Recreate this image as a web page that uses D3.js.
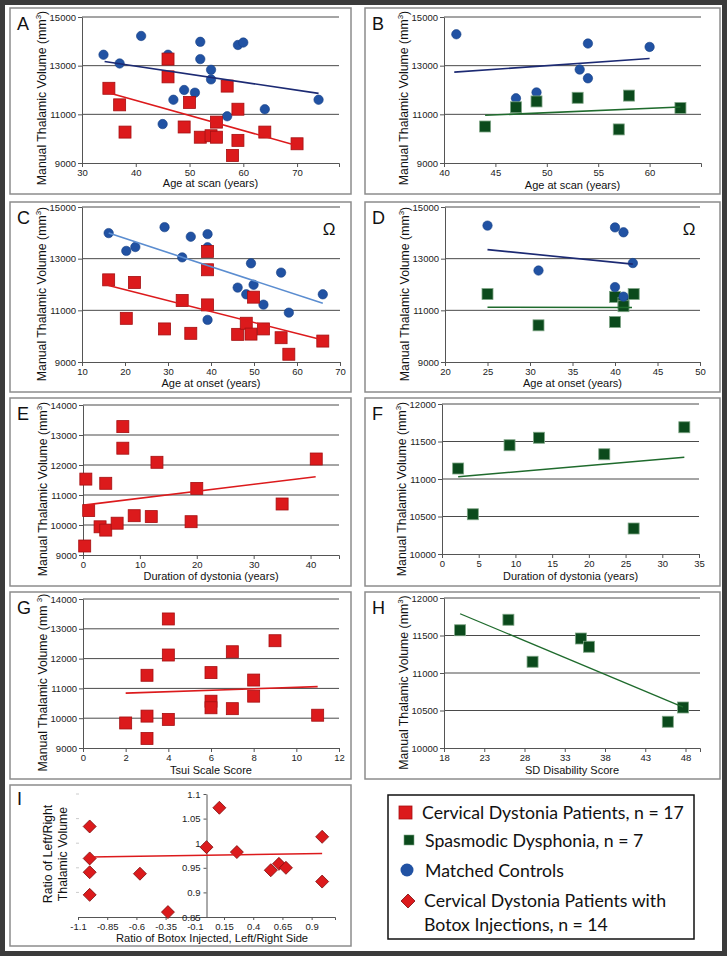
<!DOCTYPE html>
<html><head><meta charset="utf-8">
<script src="https://cdn.jsdelivr.net/npm/d3@7"></script>
<style>body{margin:0;background:#3b3b3b;} svg{display:block}</style>
</head><body>
<svg id="c" width="727" height="956"></svg>
<script>
// ---------- DATA ----------
// A: age at scan
const aCtrlAge = [34,37,41,46,45,47,49,51,52,52,54,54,57,59,60,64,74];
const aCtrlVol = [13450,13090,14220,13450,10600,11600,12000,11890,13980,13270,12830,12435,10920,13850,13950,11210,11600];
const aCdAge = [35,37,38,46,46,49,50,52,54,55,55,57,58,59,59,64,70];
const aCdVol = [12070,11390,10270,13270,12540,10480,11490,10060,10120,10060,10680,12160,9310,11210,9930,10270,9790];
const aCtrlFit = [[34.2,13170],[74,11860]];
const aCdFit = [[35.1,11880],[69.9,9720]];
// B: age at scan (SD)
const bCtrlAge = [41.2,47,49,53.2,54,54,60];
const bCtrlVol = [14290,11660,11900,12840,12480,13910,13770];
const bSdAge = [44,47,49,53,57,58,63];
const bSdVol = [10500,11290,11530,11680,10380,11770,11260];
const bCtrlFit = [[41,12735],[60,13295]];
const bSdFit = [[44,10960],[63,11300]];
// C: age at onset (CD)
const cCtrlOnset = [16.2,20.3,22.4,29.2,33.3,35.3,39.2,39.2,39.2,46.2,48.2,49.3,49.9,52.2,56.3,58.1,66];
const cCtrlVol = [13990,13300,13450,14220,13050,13850,13950,13440,10630,11880,11620,12820,11990,11220,12460,10910,11620];
const cCdOnset = [16.2,20.3,22.2,29.2,33.3,35.3,39.2,39.2,39.2,46.2,48.2,49.3,49.9,52.2,56.3,58.1,66];
const cCdVol = [12180,10690,12080,10280,11380,10110,13280,12570,11210,10070,10500,10080,11510,10280,9940,9300,9810];
const cCtrlFit = [[16.2,13990],[66,11270]];
const cCdFit = [[16.2,11960],[66,9850]];
// D: age at onset (SD)
const dCtrlOnset = [25,31,40,41,42.1,40,41];
const dCtrlVol = [14280,12540,14210,14020,12830,11900,11530];
const dSdOnset = [25,31,40,40,41,41,42.2];
const dSdVol = [11630,10420,11520,10550,11290,11160,11630];
const dCtrlFit = [[25,13350],[42.1,12790]];
const dSdFit = [[25,11120],[42,11110]];
// E: duration of dystonia (CD)
const eDur = [0.5,1,3,4,4,0.3,6,7,7,9,12,13,19,20,35,41];
const eVol = [11530,10480,9940,9830,11390,9300,10060,13280,12560,10310,10280,12090,10110,11220,10700,12200];
const eFit = [[0.5,10670],[40.9,11610]];
// F: duration of dystonia (SD)
const fDur = [2.2,4.2,9.2,13.2,22.1,26.1,33];
const fVol = [11140,10530,11450,11550,11330,10340,11690];
const fFit = [[2.2,11030],[33,11290]];
// G: Tsui scale
const gTsui = [2,3,3,3,4,4,4,6,6,6,7,7,8,8,9,11];
const gVol = [9840,11440,10070,9320,13330,12120,9960,11530,10570,10350,12230,10320,11280,10740,12600,10100];
const gFit = [[2,10840],[11,11060]];
// H: SD disability
const hSdd = [20,26,29,35,36,45.8,47.7];
const hVol = [11570,11710,11150,11460,11350,10350,10540];
const hFit = [[20,11790],[47.7,10545]];
// I: botox ratio
const iBotox = [-1,-1,-1,-1,-0.57,-0.33,0,0.11,0.26,0.55,0.62,0.68,0.99,0.99];
const iRatio = [1.034,0.969,0.941,0.895,0.938,0.860,0.992,1.072,0.982,0.945,0.958,0.950,1.013,0.922];
const iFit = [[-1,0.972],[0.99,0.979]];
// ticks
const ticksAgeA = [30,40,50,60,70];
const ticksAgeB = [40,45,50,55,60];
const ticksOnsetC = [10,20,30,40,50,60,70];
const ticksOnsetD = [20,25,30,35,40,45,50];
const ticksDurE = [0,10,20,30,40];
const ticksDurF = [0,5,10,15,20,25,30,35];
const ticksTsui = [0,2,4,6,8,10,12];
const ticksSdd = [18,23,28,33,38,43,48];
const ticksBotox = [-1.1,-0.85,-0.6,-0.35,-0.1,0.15,0.4,0.65,0.9];
const ticksVol = [9000,11000,13000,15000];
const ticksVolE = [9000,10000,11000,12000,13000,14000];
const ticksVolF = [10000,10500,11000,11500,12000];
const ticksRatio = [0.85,0.9,0.95,1,1.05,1.1];
const legendLabels = ["Cervical Dystonia Patients, n = 17","Spasmodic Dysphonia, n = 7","Matched Controls","Cervical Dystonia Patients with","Botox Injections, n = 14"];

// ---------- STYLE ----------
const RED = "#dc1a1c", RED_S = "#a51012";
const BLUE = "#2152a3";
const GREEN = "#0b4a1c", GREEN_S = "#7ea585";
const NAVY = "#1c2a73", LBLUE = "#5b8dd0", GLINE = "#1f6b2d";
const FONT = "'Liberation Sans', Arial, sans-serif";

const svg = d3.select("#c");
svg.append("rect").attr("width",727).attr("height",956).attr("fill","#3b3b3b");
svg.append("rect").attr("x",5).attr("y",5).attr("width",717).attr("height",946).attr("fill","#fff");

function zip(xs, ys){ return xs.map((v,i)=>[v, ys[i]]); }

function drawSquares(g, pts, x, y, s, fill, stroke){
  g.selectAll(null).data(pts).join("rect")
    .attr("x", d=>x(d[0])-s/2).attr("y", d=>y(d[1])-s/2)
    .attr("width", s).attr("height", s)
    .attr("fill", fill).attr("stroke", stroke).attr("stroke-width", 0.8);
}
function drawCircles(g, pts, x, y, r){
  g.selectAll(null).data(pts).join("circle")
    .attr("cx", d=>x(d[0])).attr("cy", d=>y(d[1])).attr("r", r)
    .attr("fill", BLUE).attr("stroke","#163f85").attr("stroke-width",0.6);
}
function drawDiamonds(g, pts, x, y, h){
  g.selectAll(null).data(pts).join("path")
    .attr("d", d=>{const cx=x(d[0]), cy=y(d[1]); return `M${cx},${cy-h}L${cx+h},${cy}L${cx},${cy+h}L${cx-h},${cy}Z`;})
    .attr("fill", RED).attr("stroke", "#7a0c0c").attr("stroke-width", 0.8);
}
function drawFit(g, pts, x, y, color, w){
  g.append("path").attr("d", d3.line().x(d=>x(d[0])).y(d=>y(d[1]))(pts))
    .attr("stroke", color).attr("stroke-width", w||1.6).attr("fill","none");
}
function styleAxis(sel){
  sel.select(".domain").attr("stroke","#555");
  sel.selectAll(".tick line").attr("stroke","#555");
  sel.selectAll(".tick text").attr("fill","#222").attr("font-family",FONT).attr("font-size",9.5);
}
function yLabel(g, cx, cy, space){
  const t = g.append("text").attr("transform",`translate(${cx},${cy}) rotate(-90)`)
    .attr("text-anchor","middle").attr("font-family",FONT).attr("font-size",12.3).attr("fill","#111");
  t.append("tspan").text("Manual Thalamic Volume (mm" + (space ? " " : ""));
  t.append("tspan").attr("dy",-5).attr("font-size",8).text("3");
  t.append("tspan").attr("dy",5).text(")");
}

function panel(p){
  const g = svg.append("g");
  const [bx0,by0,bx1,by1] = p.box;
  g.append("rect").attr("x",bx0).attr("y",by0).attr("width",bx1-bx0).attr("height",by1-by0)
    .attr("fill","#fff").attr("stroke","#8c8c8c").attr("stroke-width",1.5);
  const [px0,py0,px1,py1] = p.plot;
  const x = d3.scaleLinear().domain(p.xd).range([px0,px1]);
  const y = d3.scaleLinear().domain(p.yd).range([py1,py0]);
  // gridlines
  g.selectAll(null).data(p.yt.filter(v=>v!==p.yd[0])).join("line")
    .attr("x1",px0).attr("x2",px1).attr("y1",d=>y(d)).attr("y2",d=>y(d))
    .attr("stroke","#4a4a4a").attr("stroke-width",1);
  const ya = g.append("g").attr("transform",`translate(${px0},0)`)
    .call(d3.axisLeft(y).tickValues(p.yt).tickSize(4).tickSizeOuter(0).tickPadding(2).tickFormat(d3.format("d")));
  styleAxis(ya);
  const xa = g.append("g").attr("transform",`translate(0,${py1})`)
    .call(d3.axisBottom(x).tickValues(p.xt).tickSize(4).tickSizeOuter(4).tickPadding(2).tickFormat(d3.format("d")));
  styleAxis(xa);
  // labels
  g.append("text").attr("x",bx0+7).attr("y",by0+22).attr("font-family",FONT).attr("font-size",18).attr("fill","#111").text(p.letter);
  yLabel(g, px0-36, (by0+by1)/2-3, p.space);
  g.append("text").attr("x",(px0+px1)/2).attr("y",p.xly).attr("text-anchor","middle")
    .attr("font-family",FONT).attr("font-size",11).attr("fill","#111").text(p.xLabel);
  if(p.omega){
    g.append("text").attr("x",px1-11).attr("y",py0+28).attr("text-anchor","middle")
      .attr("font-family",FONT).attr("font-size",17).attr("fill","#111").text("\u03A9");
  }
  p.draw(g, x, y);
}

// A
panel({box:[10,8,351,194], plot:[82,17,339,163], xd:[30,77.8], yd:[9000,15000], xt:ticksAgeA, yt:ticksVol,
  letter:"A", xLabel:"Age at scan (years)", xly:187,
  draw:(g,x,y)=>{ drawCircles(g,zip(aCtrlAge,aCtrlVol),x,y,4.7); drawSquares(g,zip(aCdAge,aCdVol),x,y,12,RED,RED_S);
    drawFit(g,aCtrlFit,x,y,NAVY); drawFit(g,aCdFit,x,y,RED); }});
// B
panel({box:[365,8,720,194], plot:[444,17,701,163], xd:[40,65], yd:[9000,15000], xt:ticksAgeB, yt:ticksVol,
  letter:"B", xLabel:"Age at scan (years)", xly:189,
  draw:(g,x,y)=>{ drawCircles(g,zip(bCtrlAge,bCtrlVol),x,y,4.7); drawSquares(g,zip(bSdAge,bSdVol),x,y,11,GREEN,GREEN_S);
    drawFit(g,bCtrlFit,x,y,NAVY); drawFit(g,bSdFit,x,y,GLINE); }});
// C
panel({box:[10,202,351,392], plot:[82,207,340,362], xd:[10,70], yd:[9000,15000], xt:ticksOnsetC, yt:ticksVol,
  letter:"C", xLabel:"Age at onset (years)", xly:387, omega:true,
  draw:(g,x,y)=>{ drawCircles(g,zip(cCtrlOnset,cCtrlVol),x,y,4.7); drawSquares(g,zip(cCdOnset,cCdVol),x,y,12,RED,RED_S);
    drawFit(g,cCtrlFit,x,y,LBLUE); drawFit(g,cCdFit,x,y,RED); }});
// D
panel({box:[365,202,720,392], plot:[445,207,700,362], xd:[20,50], yd:[9000,15000], xt:ticksOnsetD, yt:ticksVol,
  letter:"D", xLabel:"Age at onset (years)", xly:387, omega:true,
  draw:(g,x,y)=>{ drawSquares(g,zip(dSdOnset,dSdVol),x,y,11,GREEN,GREEN_S); drawCircles(g,zip(dCtrlOnset,dCtrlVol),x,y,4.7);
    drawFit(g,dCtrlFit,x,y,NAVY); drawFit(g,dSdFit,x,y,GLINE); }});
// E
panel({box:[10,398,351,586], plot:[83,405,339,555], xd:[0,45], yd:[9000,14000], xt:ticksDurE, yt:ticksVolE,
  letter:"E", xLabel:"Duration of dystonia (years)", xly:580,
  draw:(g,x,y)=>{ drawSquares(g,zip(eDur,eVol),x,y,12,RED,RED_S); drawFit(g,eFit,x,y,RED); }});
// F
panel({box:[365,398,720,586], plot:[442,404,699,554], xd:[0,35], yd:[10000,12000], xt:ticksDurF, yt:ticksVolF,
  letter:"F", xLabel:"Duration of dystonia (years)", xly:580,
  draw:(g,x,y)=>{ drawSquares(g,zip(fDur,fVol),x,y,11,GREEN,GREEN_S); drawFit(g,fFit,x,y,GLINE); }});
// G
panel({box:[10,592,351,779], plot:[83,599,339,748], xd:[0,12], yd:[9000,14000], xt:ticksTsui, yt:ticksVolE,
  letter:"G", xLabel:"Tsui Scale Score", xly:774, space:true,
  draw:(g,x,y)=>{ drawSquares(g,zip(gTsui,gVol),x,y,12,RED,RED_S); drawFit(g,gFit,x,y,RED); }});
// H
panel({box:[365,592,720,779], plot:[444,598,700,748], xd:[18,49.8], yd:[10000,12000], xt:ticksSdd, yt:ticksVolF,
  letter:"H", xLabel:"SD Disability Score", xly:774,
  draw:(g,x,y)=>{ drawSquares(g,zip(hSdd,hVol),x,y,11,GREEN,GREEN_S); drawFit(g,hFit,x,y,GLINE,1.3); }});

// I
(function(){
  const g = svg.append("g");
  g.append("rect").attr("x",10).attr("y",785).attr("width",341).attr("height",161)
    .attr("fill","#fff").attr("stroke","#8c8c8c").attr("stroke-width",1.5);
  const x = d3.scaleLinear().domain([-1.1,1.1]).range([78,335]);
  const y = d3.scaleLinear().domain([0.85,1.1]).range([917,794]);
  // faint stubs at left
  g.selectAll(null).data(ticksRatio.filter(v=>v>0.85)).join("line")
    .attr("x1",x(-1.1)-2).attr("x2",x(-1.1)+1).attr("y1",d=>y(d)).attr("y2",d=>y(d))
    .attr("stroke","#ccc").attr("stroke-width",1);
  const xa = g.append("g").attr("transform",`translate(0,${y(0.85)})`)
    .call(d3.axisBottom(x).tickValues(ticksBotox).tickSize(3).tickSizeOuter(3).tickPadding(3).tickFormat(d=>String(d)));
  styleAxis(xa);
  const ya = g.append("g").attr("transform",`translate(${x(0)},0)`)
    .call(d3.axisLeft(y).tickValues(ticksRatio).tickSize(3).tickSizeOuter(0).tickPadding(3).tickFormat(d=>String(d)));
  styleAxis(ya);
  drawDiamonds(g, zip(iBotox,iRatio), x, y, 6.5);
  drawFit(g, iFit, x, y, RED);
  g.append("text").attr("x",17).attr("y",805).attr("font-family",FONT).attr("font-size",18).attr("fill","#111").text("I");
  const t = g.append("text").attr("transform","translate(52,854) rotate(-90)").attr("text-anchor","middle")
    .attr("font-family",FONT).attr("font-size",12.3).attr("fill","#111");
  t.append("tspan").attr("x",0).attr("dy",0).text("Ratio of Left/Right");
  t.append("tspan").attr("x",0).attr("dy",15).text("Thalamic Volume");
  g.append("text").attr("x",212).attr("y",942).attr("text-anchor","middle")
    .attr("font-family",FONT).attr("font-size",11.2).attr("fill","#111").text("Ratio of Botox Injected, Left/Right Side");
})();

// Legend
(function(){
  const g = svg.append("g");
  g.append("rect").attr("x",388).attr("y",795).attr("width",306).attr("height",144)
    .attr("fill","#fff").attr("stroke","#111").attr("stroke-width",1.5);
  const LF = "Lato, 'Open Sans', sans-serif";
  const rows = [
    {tx:422, ty:819},
    {tx:425, ty:847},
    {tx:425, ty:877},
    {tx:424, ty:907},
    {tx:424, ty:931}
  ];
  const texts = g.selectAll(null).data(legendLabels).join("text")
    .attr("x",(d,i)=>rows[i].tx).attr("y",(d,i)=>rows[i].ty)
    .attr("font-family",LF).attr("font-size",19).attr("fill","#111").text(d=>d);
  // fit width of first line to reference (~262px)
  const w = texts.nodes()[0].getComputedTextLength();
  const fs = 19*262/w;
  texts.attr("font-size", Math.min(21, Math.max(15, fs)));
  g.append("rect").attr("x",399).attr("y",806).attr("width",13).attr("height",13).attr("fill",RED).attr("stroke",RED_S).attr("stroke-width",0.8);
  g.append("rect").attr("x",404).attr("y",835).attr("width",10).attr("height",10).attr("fill",GREEN).attr("stroke",GREEN_S).attr("stroke-width",0.6);
  g.append("circle").attr("cx",407).attr("cy",870).attr("r",6.5).attr("fill",BLUE);
  g.append("path").attr("d","M408,894L415,901L408,908L401,901Z").attr("fill",RED).attr("stroke","#7a0c0c").attr("stroke-width",0.8);
})();
</script>
</body></html>
